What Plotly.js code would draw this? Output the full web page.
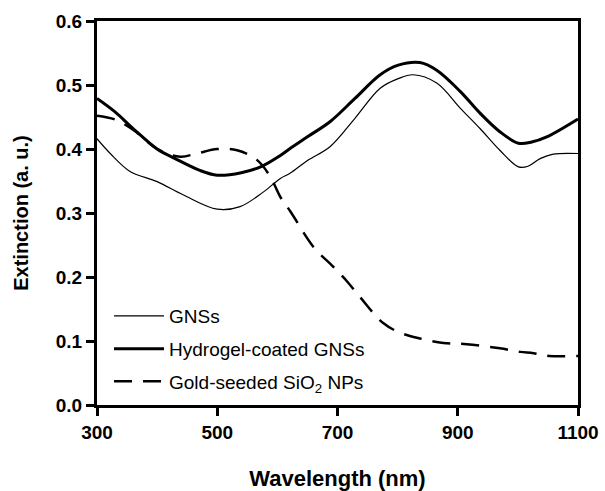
<!DOCTYPE html>
<html>
<head>
<meta charset="utf-8">
<script src="https://cdn.plot.ly/plotly-3.0.1.min.js"></script>
<style>html,body{margin:0;padding:0;background:#fff;}#chart{width:605px;height:491px;}</style>
</head>
<body>
<div id="chart"></div>
<script>
const gnsX = [300, 322, 355, 400, 444, 500, 538, 577, 605, 621, 650, 688, 729, 771, 801, 826, 865, 904, 937, 970, 1001, 1017, 1037, 1059, 1100];
const gnsY = [0.416, 0.393, 0.365, 0.349, 0.328, 0.306, 0.310, 0.333, 0.354, 0.362, 0.382, 0.404, 0.448, 0.495, 0.510, 0.516, 0.503, 0.464, 0.432, 0.398, 0.372, 0.373, 0.385, 0.392, 0.393];

const hydX = [300, 330, 360, 400, 430, 470, 500, 540, 574, 605, 620, 650, 688, 729, 771, 801, 837, 865, 904, 937, 970, 1001, 1023, 1048, 1100];
const hydY = [0.479, 0.458, 0.432, 0.400, 0.385, 0.367, 0.359, 0.363, 0.373, 0.390, 0.400, 0.419, 0.443, 0.479, 0.516, 0.531, 0.535, 0.523, 0.490, 0.456, 0.427, 0.409, 0.411, 0.419, 0.447];

const goldX = [300, 330, 360, 400, 438, 466, 500, 533, 566, 588, 605, 622, 660, 693, 716, 738, 776, 804, 837, 876, 915, 970, 1004, 1026, 1052, 1100];
const goldY = [0.452, 0.446, 0.430, 0.400, 0.388, 0.393, 0.400, 0.398, 0.383, 0.357, 0.325, 0.302, 0.247, 0.216, 0.193, 0.168, 0.128, 0.113, 0.104, 0.097, 0.095, 0.0885, 0.083, 0.081, 0.0766, 0.0766];

const names = ['GNSs', 'Hydrogel-coated GNSs', 'Gold-seeded SiO<sub>2</sub> NPs'];

const traces = [
  {x: gnsX, y: gnsY, name: names[0], mode: 'lines', legendgroup: 'a',
   line: {color: '#000', width: 1.2, shape: 'spline'}},
  {x: hydX, y: hydY, name: names[1], mode: 'lines', legendgroup: 'b',
   line: {color: '#000', width: 3, shape: 'spline'}},
  {x: goldX, y: goldY, name: names[2], mode: 'lines', legendgroup: 'c',
   line: {color: '#000', width: 2.5, shape: 'spline', dash: '18px,11px'}}
];

const font = 'Liberation Sans, Arial, sans-serif';
const layout = {
  width: 605, height: 491,
  margin: {l: 97, r: 27, t: 21, b: 86},
  paper_bgcolor: '#fff', plot_bgcolor: '#fff',
  showlegend: true,
  legend: {x: 0.025, y: 0.281, xanchor: 'left', yanchor: 'top',
    font: {family: font, size: 19, color: '#000'},
    bgcolor: 'rgba(0,0,0,0)', traceorder: 'grouped', tracegroupgap: 5,
    itemwidth: 50},
  xaxis: {
    range: [300, 1100], dtick: 200, tick0: 300,
    showgrid: false, zeroline: false,
    showline: true, linecolor: '#000', linewidth: 3, mirror: true,
    ticks: 'outside', ticklen: 8, tickwidth: 3, tickcolor: '#000',
    tickfont: {family: font, size: 19, color: '#000', weight: 'bold'},
    title: {text: '<b>Wavelength (nm)</b>', font: {family: font, size: 22, color: '#000'}, standoff: 30}
  },
  yaxis: {
    range: [0, 0.6], dtick: 0.1, tick0: 0, tickformat: '.1f',
    showgrid: false, zeroline: false,
    showline: true, linecolor: '#000', linewidth: 3, mirror: true,
    ticks: 'outside', ticklen: 8, tickwidth: 3, tickcolor: '#000',
    tickfont: {family: font, size: 19, color: '#000', weight: 'bold'},
    title: {text: '<b>Extinction (a. u.)</b>', font: {family: font, size: 20, color: '#000'}, standoff: 22}
  }
};

Plotly.newPlot('chart', traces, layout, {displayModeBar: false, staticPlot: true});
</script>
</body>
</html>
